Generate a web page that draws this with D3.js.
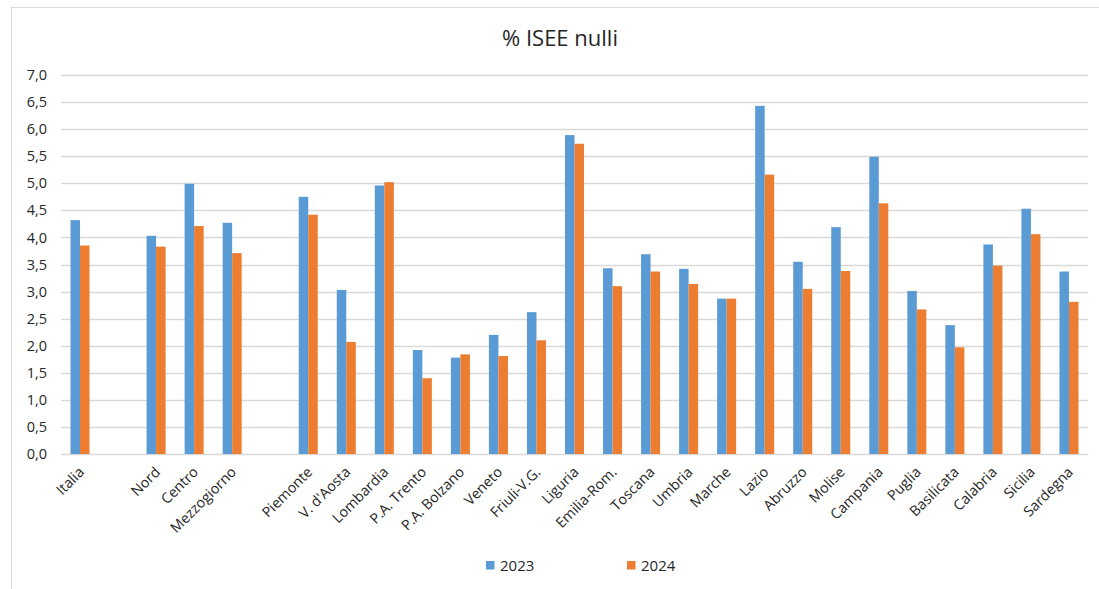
<!DOCTYPE html>
<html>
<head>
<meta charset="utf-8">
<script src="https://cdn.jsdelivr.net/npm/d3@7"></script>
<style>
  body { margin: 0; background: #fff; }
  svg { display: block; font-family: "Open Sans", Lato, sans-serif; }
</style>
</head>
<body>
<div id="chart"></div>
<script>
// Categories (empty strings are the gaps in the original chart)
const categories = ["Italia", "", "Nord", "Centro", "Mezzogiorno", "", "Piemonte", "V. d'Aosta",
  "Lombardia", "P.A. Trento", "P.A. Bolzano", "Veneto", "Friuli-V.G.", "Liguria", "Emilia-Rom.",
  "Toscana", "Umbria", "Marche", "Lazio", "Abruzzo", "Molise", "Campania", "Puglia", "Basilicata",
  "Calabria", "Sicilia", "Sardegna"];

const values2023 = [4.32, null, 4.03, 4.99, 4.27, null, 4.75, 3.03, 4.96, 1.92, 1.78, 2.20, 2.62,
  5.89, 3.43, 3.69, 3.42, 2.87, 6.43, 3.55, 4.19, 5.49, 3.01, 2.38, 3.87, 4.53, 3.37];
const values2024 = [3.85, null, 3.83, 4.21, 3.71, null, 4.42, 2.07, 5.02, 1.40, 1.84, 1.81, 2.10,
  5.73, 3.10, 3.37, 3.14, 2.87, 5.16, 3.05, 3.38, 4.63, 2.67, 1.97, 3.48, 4.06, 2.81];

const seriesNames = ["2023", "2024"];
const colors = ["#5B9BD5", "#ED7D31"];
const yTicks = d3.range(0, 7.01, 0.5);

const drawChart = (containerId) => {
    const width = 1099;
    const height = 589;
    const margin = { top: 75, right: 11, bottom: 135, left: 61 };
    const innerWidth = width - margin.left - margin.right;
    const innerHeight = height - margin.top - margin.bottom;

    const svg = d3.select(containerId)
        .append("svg")
        .attr("width", width)
        .attr("height", height);

    // outer chart border
    svg.append("rect")
        .attr("x", 11.5).attr("y", 7.5)
        .attr("width", width).attr("height", height)
        .attr("fill", "none")
        .attr("stroke", "#d9d9d9");

    svg.append("text")
        .attr("x", 560)
        .attr("y", 46)
        .attr("text-anchor", "middle")
        .attr("font-size", 22)
        .attr("fill", "#262626")
        .text("% ISEE nulli");

    const x = d3.scaleBand()
        .domain(d3.range(categories.length))
        .range([0, innerWidth]);

    const x1 = d3.scaleBand()
        .domain(seriesNames)
        .range([x.bandwidth() / 4, x.bandwidth() * 3 / 4]);

    const y = d3.scaleLinear()
        .domain([0, 7])
        .range([innerHeight, 0]);

    const g = svg.append("g")
        .attr("transform", `translate(${margin.left},${margin.top})`);

    // gridlines
    g.append("g")
        .selectAll("line")
        .data(yTicks)
        .join("line")
        .attr("x1", 0).attr("x2", innerWidth)
        .attr("y1", d => Math.round(y(d)) + 0.5)
        .attr("y2", d => Math.round(y(d)) + 0.5)
        .attr("stroke", "#d9d9d9")
        .attr("stroke-width", 1.3);

    // y axis labels
    const leftAxis = d3.axisLeft(y)
        .tickValues(yTicks)
        .tickSize(0)
        .tickPadding(14)
        .tickFormat(d => d3.format(".1f")(d).replace(".", ","));
    const yAxis = g.append("g").call(leftAxis);
    yAxis.select(".domain").remove();
    yAxis.selectAll("text")
        .attr("font-size", 14.5)
        .attr("font-family", "'Open Sans', sans-serif")
        .attr("fill", "#262626");

    // x axis labels
    const bottomAxis = d3.axisBottom(x)
        .tickSize(0)
        .tickFormat(i => categories[i]);
    const xAxis = g.append("g")
        .attr("transform", `translate(0,${innerHeight})`)
        .call(bottomAxis);
    xAxis.select(".domain").remove();
    xAxis.selectAll("text")
        .attr("font-size", 14.3)
        .attr("font-family", "'Open Sans', sans-serif")
        .attr("fill", "#262626")
        .attr("text-anchor", "end")
        .attr("dy", null)
        .attr("y", 0)
        .attr("transform", "translate(5,19) rotate(-45)");

    // bars
    const series = [values2023, values2024];
    series.forEach((vals, si) => {
        g.append("g")
            .selectAll("rect")
            .data(vals.map((v, i) => ({ i, v })).filter(d => d.v !== null))
            .join("rect")
            .attr("x", d => x(d.i) + x1(seriesNames[si]))
            .attr("y", d => y(d.v))
            .attr("width", x1.bandwidth())
            .attr("height", d => innerHeight - y(d.v))
            .attr("fill", colors[si]);
    });

    // legend
    const legendX = [486, 627];
    const legend = svg.append("g");
    seriesNames.forEach((name, si) => {
        legend.append("rect")
            .attr("x", legendX[si])
            .attr("y", 561)
            .attr("width", 8.5)
            .attr("height", 8.5)
            .attr("fill", colors[si]);
        legend.append("text")
            .attr("x", legendX[si] + 14)
            .attr("y", 571)
            .attr("font-size", 15)
            .attr("fill", "#262626")
            .text(name);
    });
};

drawChart("#chart");
</script>
</body>
</html>
